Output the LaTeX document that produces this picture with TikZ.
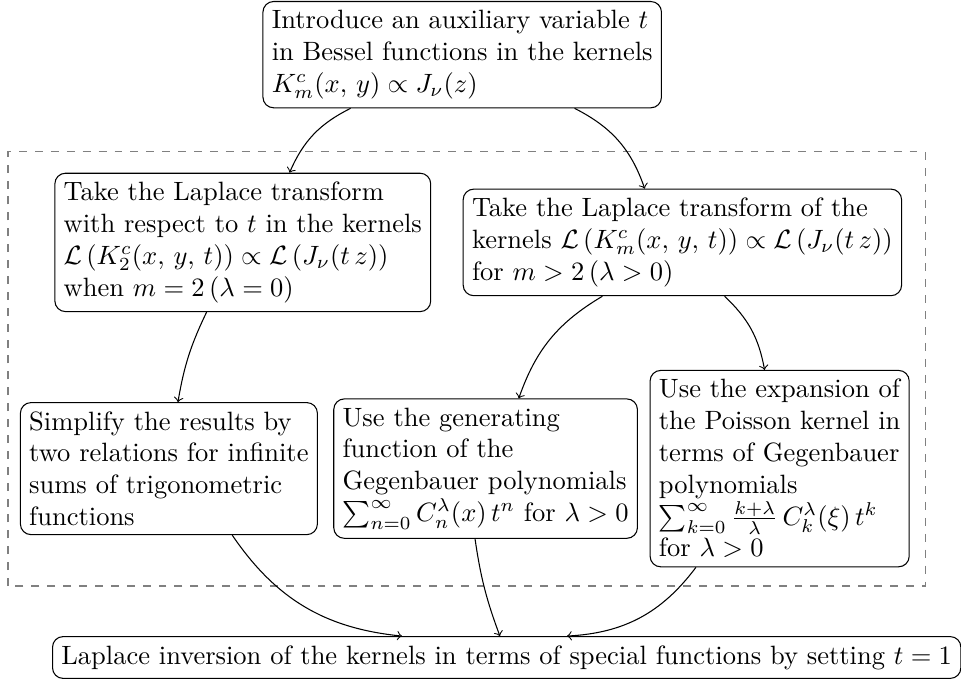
\documentclass[tikz,border=0pt]{standalone}
\usepackage{amsmath, amssymb}
\usepackage{tikz}
\usetikzlibrary{calc, positioning}

\begin{document}
\begin{tikzpicture}[
  stepbox/.style={draw, rounded corners, align=left},
  >=to
]
  \useasboundingbox (0,0) rectangle (12.745,9.005);

  % --- Outer step ---
  \node[stepbox] (intro) at (6.13,8.28)
    {Introduce an auxiliary variable $t$\\
     in Bessel functions in the kernels\\
     $K^c_m(x,\, y) \propto J_\nu(z)$};

  % --- Laplace transform (dashed group) ---
  \draw[dashed, gray] (0.106,1.233) rectangle (12.27,6.99);

  \node[stepbox] (lapA) at (3.22,5.79)
    {Take the Laplace transform\\
     with respect to $t$ in the kernels\\
     $\mathcal{L}\left(K^c_2(x,\, y,\, t)\right) \propto \mathcal{L}\left(J_\nu(t\,z)\right)$\\
     when $m = 2\,(\lambda = 0)$};
  \node[stepbox] (lapB) at (9.05,5.79)
    {Take the Laplace transform of the\\
     kernels $\mathcal{L}\left(K^c_m(x,\, y,\, t)\right) \propto \mathcal{L}\left(J_\nu(t\,z)\right)$\\
     for $m > 2\,(\lambda > 0)$};

  \node[stepbox] (simp) at (2.24,2.79)
    {Simplify the results by\\
     two relations for infinite\\
     sums of trigonometric\\
     functions};
  \node[stepbox] (genf) at (6.44,2.79)
    {Use the generating\\
     function of the\\
     Gegenbauer polynomials\\
     $\sum_{n=0}^{\infty} C^\lambda_n(x)\, t^n$ for $\lambda > 0$};
  \node[stepbox] (pois) at (10.34,2.79)
    {Use the expansion of\\
     the Poisson kernel in\\
     terms of Gegenbauer\\
     polynomials\\
     $\sum_{k=0}^{\infty} \frac{k+\lambda}{\lambda}\, C^\lambda_k(\xi)\, t^k$\\
     for $\lambda > 0$};

  % --- Final step ---
  \node[stepbox] (inv) at (6.72,0.285)
    {Laplace inversion of the kernels in terms of special functions by setting $t = 1$};

  % Connectors
  \draw[->] ([xshift=-1.48cm]intro.south) to[bend right=20] ([xshift=0.62cm]lapA.north);
  \draw[->] ([xshift=1.49cm]intro.south) to[bend left=22] ([xshift=-0.50cm]lapB.north);
  \draw[->] ([xshift=-0.48cm]lapA.south) to[bend right=8] ([xshift=0.12cm]simp.north);
  \draw[->] ([xshift=-1.06cm]lapB.south) to[bend right=20] ([xshift=0.44cm]genf.north);
  \draw[->] ([xshift=0.56cm]lapB.south) to[bend left=18] ([xshift=-0.20cm]pois.north);
  \draw[->] ([xshift=0.84cm]simp.south) to[bend right=25] ([xshift=-1.39cm]inv.north);
  \draw[->] ([xshift=-0.14cm]genf.south) to[bend right=6] ([xshift=-0.09cm]inv.north);
  \draw[->] ([xshift=-1.11cm]pois.south) to[bend left=25] ([xshift=0.80cm]inv.north);
\end{tikzpicture}
\end{document}
